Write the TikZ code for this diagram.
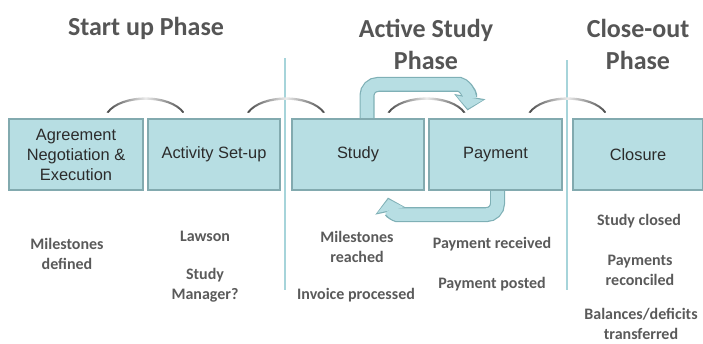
\documentclass[tikz,border=0pt]{standalone}
\usepackage{fontspec}
\setmainfont{Carlito}
\newfontfamily\boxfont{Liberation Sans}
\usetikzlibrary{calc,arrows.meta,backgrounds}

\definecolor{boxfill}{HTML}{B7DEE3}
\definecolor{boxedge}{HTML}{82AAAF}
\definecolor{loopfill}{HTML}{B7DEE3}
\definecolor{loopedge}{HTML}{7FB0B6}
\definecolor{dividercol}{HTML}{A6D4DA}
\definecolor{headtext}{HTML}{555555}
\definecolor{notetext}{HTML}{5A5A5A}
\definecolor{boxtext}{HTML}{2B2B2B}
\definecolor{arcdark}{HTML}{474747}
\definecolor{arclight}{HTML}{EBEBEB}

% gray hand-over arc drawn above the junction of two stage boxes
\newcommand\handover[2]{%
  \path ($(#1.north east)!0.5!(#2.north west)$) coordinate (#1-#2);
  \begin{scope}[shift={(#1-#2)}]
    \shade[arcshade] (-39,-6) .. controls (-25,-26) and (25,-26) .. (39,-6)
      -- (37,-5.5) .. controls (24,-23) and (-24,-23) .. (-37,-5.5) -- cycle;
  \end{scope}}

\begin{document}
\begin{tikzpicture}[x=1pt,y=-1pt,
  stagebox/.style={draw=boxedge, line width=1.2pt, fill=boxfill,
    minimum height=71pt, inner sep=0pt, align=center, text=boxtext,
    font=\boxfont\fontsize{16.4}{20}\selectfont},
  phasehead/.style={font=\bfseries\fontsize{26}{32}\selectfont,
    text=headtext, align=center},
  note/.style={font=\bfseries\fontsize{16}{20}\selectfont,
    text=notetext, align=center},
  phasedivider/.style={draw=dividercol, line width=2.6pt},
  arcshade/.style={left color=arcdark, right color=arcdark, middle color=arclight},
  loopouter/.style={draw=loopedge, line width=15pt, rounded corners=11pt,
    -{Triangle[width=31pt,length=14pt]}},
  loopinner/.style={draw=loopfill, line width=12.6pt, rounded corners=11pt,
    shorten >=1.6pt, -{Triangle[width=26.5pt,length=11.2pt]}},
]
\useasboundingbox (0,0) rectangle (703,343);

% phase headings
\node[phasehead] (hstart)  at (146,28) {Start up Phase};
\node[phasehead] (hactive) at (426,44) {Active Study\\Phase};
\node[phasehead] (hclose)  at (638,44) {Close-out\\Phase};

% phase dividers
\draw[phasedivider] (285,58) -- (285,290);
\draw[phasedivider] (567,60) -- (567,290);

% stages
\node[stagebox, minimum width=134pt] (agree)   at (76,154.5)    {Agreement\\Negotiation \&\\Execution};
\node[stagebox, minimum width=132pt] (setup)   at (214,154.5)   {Activity Set-up};
\node[stagebox, minimum width=132pt] (study)   at (358,154.5)   {Study};
\node[stagebox, minimum width=133pt] (payment) at (495.5,154.5) {Payment};
\node[stagebox, minimum width=130pt] (closure) at (638,154.5)   {Closure};

% loop arrows between Study and Payment, rooted behind the boxes
\coordinate (ls) at ($(study.north)+(9,6)$);
\coordinate (lt) at ($(payment.north)+(-28,-8)$);
\coordinate (bs) at ($(payment.south)+(2,-6)$);
\coordinate (bt) at ($(study.south)+(30,7)$);
\begin{scope}[on background layer]
  \foreach \sty in {loopouter,loopinner}{
    \draw[\sty] (ls) |- ($(lt)+(-19,-26)$) .. controls +(14,0) and ($(lt)+(3,-18)$) .. (lt);
    \draw[\sty] (bs) |- ($(bt)+(20,17)$) .. controls +(-12,0) and ($(bt)+(3,14)$) .. (bt);
  }
\end{scope}

% hand-over arcs
\handover{agree}{setup}
\handover{setup}{study}
\handover{study}{payment}
\handover{payment}{closure}

% notes under the stages
\node[note] (n1) at (67,254)  {Milestones\\defined};
\node[note] (n2) at (205,236) {Lawson};
\node[note] (n3) at (205,285) {Study\\Manager?};
\node[note] (n4) at (357,247) {Milestones\\reached};
\node[note] (n5) at (356,295) {Invoice processed};
\node[note] (n6) at (492,244) {Payment received};
\node[note] (n7) at (492,284) {Payment posted};
\node[note] (n8) at (639,221) {Study closed};
\node[note] (n9) at (640,270) {Payments\\reconciled};
\node[note] (n10) at (641,324) {Balances/deficits\\transferred};
\end{tikzpicture}
\end{document}
